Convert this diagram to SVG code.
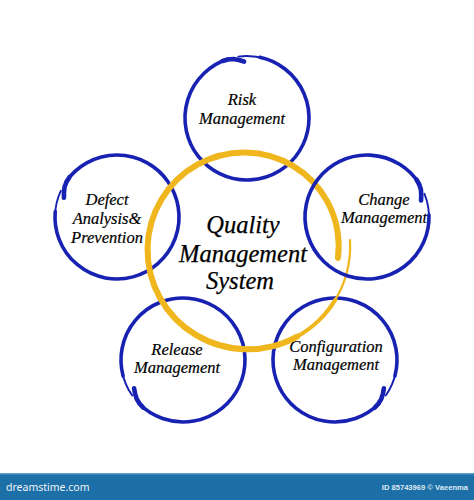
<svg xmlns="http://www.w3.org/2000/svg" xmlns:xlink="http://www.w3.org/1999/xlink" width="474" height="500" viewBox="0 0 474 500">
  <style>
    .blue { fill: none; stroke: #1822b2; stroke-linecap: round; stroke-linejoin: round; }
    .thin { stroke-width: 1.9; }
    .main { stroke-width: 3.6; }
    .lip { stroke-width: 4.6; }
    .yel { fill: none; stroke: #f0b61e; stroke-linecap: round; stroke-linejoin: round; }
    .lbl { font-family: "Liberation Serif", "Times New Roman", serif; font-style: italic; font-size: 16.5px; fill: #000; text-anchor: middle; stroke: #000; stroke-width: 0.2; }
    .big { font-family: "Liberation Serif", "Times New Roman", serif; font-style: italic; font-size: 24.5px; fill: #000; text-anchor: middle; stroke: #000; stroke-width: 0.25; }
    .foot1 { font-family: "Noto Sans", "Liberation Sans", sans-serif; font-size: 10.5px; fill: #eef5fb; }
    .foot2 { font-family: "Liberation Sans", Arial, sans-serif; font-weight: bold; font-size: 7.6px; fill: #dfeaf4; text-anchor: end; }
  </style>
  <defs>
    <g id="ring">
      <path class="blue thin" d="M62,0 A62,62 0 0 1 39.85,47.49"/>
      <path class="blue main" d="M58.26,21.21 A62,62 0 1 1 61.06,-10.77"/>
      <path class="blue lip" d="M59.89,-16.05 L60.57,-10.68 L60.27,-5.27 L58.5,0 L56.29,4.92"/>
    </g>
  </defs>
  <rect x="0" y="0" width="474" height="500" fill="#ffffff"/>

  <g id="node-risk">
    <use xlink:href="#ring" transform="translate(247,118) rotate(-98)"/>
    <text class="lbl" x="242" y="105">Risk</text>
    <text class="lbl" x="242" y="124">Management</text>
  </g>

  <g id="node-defect">
    <use xlink:href="#ring" transform="translate(117,217) rotate(25) scale(-1,1)"/>
    <text class="lbl" x="107" y="205">Defect</text>
    <text class="lbl" x="107" y="224">Analysis&amp;</text>
    <text class="lbl" x="107" y="243">Prevention</text>
  </g>

  <g id="node-release">
    <use xlink:href="#ring" transform="translate(183,360) rotate(145)"/>
    <text class="lbl" x="177" y="355">Release</text>
    <text class="lbl" x="177" y="373">Management</text>
  </g>

  <g id="node-configuration">
    <use xlink:href="#ring" transform="translate(335,360) rotate(-145) scale(-1,1)"/>
    <text class="lbl" x="336" y="352">Configuration</text>
    <text class="lbl" x="336" y="370">Management</text>
  </g>

  <g id="node-qms">
    <path class="yel" stroke-width="2.2" d="M349.99,240 A103.9,103.9 0 0 1 346.15,274.83 A103.4,103.4 0 0 1 335.37,299.6"/>
    <path class="yel" stroke-width="4" d="M335.37,299.6 A103,103 0 0 1 318.64,320.64 A102.5,102.5 0 0 1 297.13,336.55"/>
    <path class="yel" stroke-width="6" d="M297.13,336.55 A102,102 0 0 1 272.34,346.30 A101.5,101.5 0 0 1 246,349.29 A100.8,100.8 0 0 1 195.83,334.90 A99.9,99.9 0 0 1 159.93,297.69 A98.9,98.9 0 0 1 147.57,248 A98,98 0 0 1 161.59,199.26 A97,97 0 0 1 197.74,164.41 A96,96 0 0 1 246,152.44 A95.1,95.1 0 0 1 293.31,166.06 A94.1,94.1 0 0 1 327.10,201.17 A93.3,93.3 0 0 1 337.61,231.85 A92.8,92.8 0 0 1 337.96,257.99"/>
    <text class="big" x="243" y="233">Quality</text>
    <text class="big" x="243" y="262">Management</text>
    <text class="big" x="240" y="289">System</text>
  </g>

  <g id="node-change">
    <use xlink:href="#ring" transform="translate(367,217) rotate(-22)"/>
    <text class="lbl" x="384" y="205">Change</text>
    <text class="lbl" x="384" y="223">Management</text>
  </g>

  <g id="connectors"></g>

  <g id="footer">
    <rect x="0" y="473" width="474" height="27" fill="#1c6fa7"/>
    <rect x="0" y="473" width="474" height="1.5" fill="#5a9ccb"/>
    <text class="foot1" x="6" y="491">dreamstime.com</text>
    <text class="foot2" x="468" y="490">ID 85743969 © Vaeenma</text>
  </g>
</svg>
